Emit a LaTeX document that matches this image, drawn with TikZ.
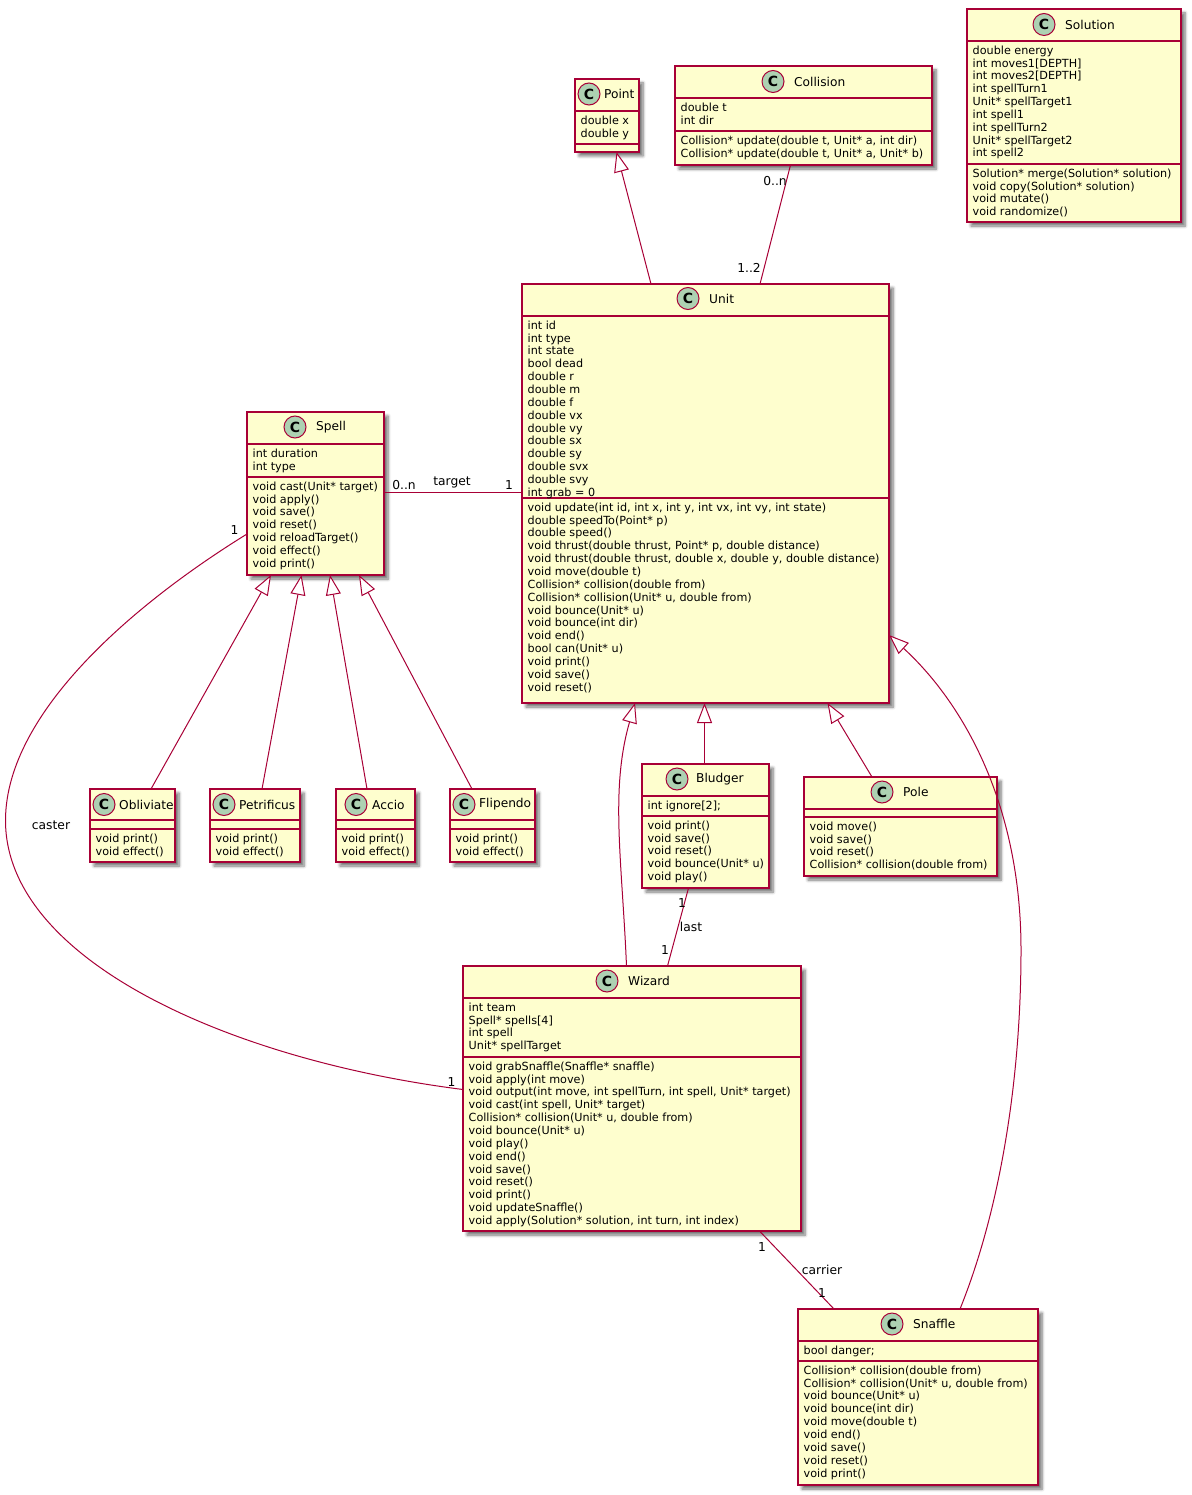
\documentclass[tikz,border=0pt]{standalone}
\usepackage{fontspec}
\setmainfont{DejaVu Sans}
\usetikzlibrary{arrows.meta,calc,shadows.blur}
\definecolor{umlline}{HTML}{A80036}
\definecolor{umlfill}{HTML}{FEFECE}
\definecolor{umlmark}{HTML}{ADD1B2}
\tikzset{
    umlbox/.style={rectangle, draw=umlline, line width=1.3pt, fill=umlfill, anchor=north west, inner sep=0, outer sep=0,
        blur shadow={shadow xshift=4pt, shadow yshift=-4pt, shadow blur radius=3pt, shadow blur steps=6, shadow opacity=55}},
    umlsep/.style={draw=umlline, line width=1.3pt},
    umlmark/.style={circle, draw=umlline, line width=1pt, fill=umlmark, minimum size=22pt, inner sep=0, font=\fontsize{14}{14}\selectfont\bfseries},
    umltitle/.style={anchor=west, inner sep=0, font=\fontsize{12.2}{14}\selectfont},
    umlrows/.style={anchor=north west, inner sep=0, align=left, font=\fontsize{11.2}{12.85}\selectfont},
    lbl/.style={inner sep=0, font=\fontsize{12.3}{13}\selectfont},
    ext/.style={draw=umlline, line width=1pt, -{Triangle[fill=white, length=20pt, width=15pt, line width=1pt]}},
    rel/.style={draw=umlline, line width=1pt},
}
\newcommand{\classbox}[7]{
    \node[umlbox, minimum width=#4pt-#2pt, minimum height=#5pt-#3pt] (#1) at (#2,#3) {};
    \draw[umlsep] (#1.west |- 0,#6) -- (#1.east |- 0,#6);
    \draw[umlsep] (#1.west |- 0,#7) -- (#1.east |- 0,#7);
}
\newcommand{\classhead}[5]{
    \node[umlmark] (#1-mark) at (#3,#5) {C};
    \node[umltitle] (#1-title) at (#4,#5) {#2};
}
\newcommand{\classrows}[4]{
    \node[umlrows] (#1-#2) at ($(#1.west |- 0,#3)+(5.5,4)$) {\rule{0pt}{9pt}#4};
}
\begin{document}
\begin{tikzpicture}[x=1pt, y=-1pt]
    \useasboundingbox (0,0) rectangle (1191,1495);

    \classbox{solution}{967}{9}{1181}{222}{41}{164}
    \classhead{solution}{Solution}{1044}{1065}{24.5}
    \classrows{solution}{attrs}{41}{double energy\\int moves1[DEPTH]\\int moves2[DEPTH]\\int spellTurn1\\Unit* spellTarget1\\int spell1\\int spellTurn2\\Unit* spellTarget2\\int spell2}
    \classrows{solution}{ops}{164}{Solution* merge(Solution* solution)\\void copy(Solution* solution)\\void mutate()\\void randomize()}

    \classbox{collision}{675}{66}{932}{165}{98}{131}
    \classhead{collision}{Collision}{773}{794}{81.5}
    \classrows{collision}{attrs}{98}{double t\\int dir}
    \classrows{collision}{ops}{131}{Collision* update(double t, Unit* a, int dir)\\Collision* update(double t, Unit* a, Unit* b)}

    \classbox{point}{575}{79}{639}{152}{111}{144}
    \classhead{point}{Point}{589}{604}{94}
    \classrows{point}{attrs}{111}{double x\\double y}

    \classbox{unit}{522}{284}{889}{703}{316}{498}
    \classhead{unit}{Unit}{688}{709}{298.5}
    \classrows{unit}{attrs}{316}{int id\\int type\\int state\\bool dead\\double r\\double m\\double f\\double vx\\double vy\\double sx\\double sy\\double svx\\double svy\\int grab = 0}
    \classrows{unit}{ops}{498}{void update(int id, int x, int y, int vx, int vy, int state)\\double speedTo(Point* p)\\double speed()\\void thrust(double thrust, Point* p, double distance)\\void thrust(double thrust, double x, double y, double distance)\\void move(double t)\\Collision* collision(double from)\\Collision* collision(Unit* u, double from)\\void bounce(Unit* u)\\void bounce(int dir)\\void end()\\bool can(Unit* u)\\void print()\\void save()\\void reset()}

    \classbox{spell}{247}{412}{384}{575}{444}{477}
    \classhead{spell}{Spell}{295}{316}{427}
    \classrows{spell}{attrs}{444}{int duration\\int type}
    \classrows{spell}{ops}{477}{void cast(Unit* target)\\void apply()\\void save()\\void reset()\\void reloadTarget()\\void effect()\\void print()}

    \classbox{obliviate}{90}{789}{175}{862}{820}{829}
    \classhead{obliviate}{Obliviate}{104}{119}{804.5}
    \classrows{obliviate}{ops}{829}{void print()\\void effect()}

    \classbox{petrificus}{210}{789}{300}{862}{820}{829}
    \classhead{petrificus}{Petrificus}{224}{239}{804.5}
    \classrows{petrificus}{ops}{829}{void print()\\void effect()}

    \classbox{accio}{336}{789}{415}{862}{820}{829}
    \classhead{accio}{Accio}{356}{372}{804.5}
    \classrows{accio}{ops}{829}{void print()\\void effect()}

    \classbox{flipendo}{450}{789}{535}{862}{820}{829}
    \classhead{flipendo}{Flipendo}{464}{479}{804.5}
    \classrows{flipendo}{ops}{829}{void print()\\void effect()}

    \classbox{bludger}{642}{764}{769}{888}{796}{816}
    \classhead{bludger}{Bludger}{677}{696}{779}
    \classrows{bludger}{attrs}{796}{int ignore[2];}
    \classrows{bludger}{ops}{816}{void print()\\void save()\\void reset()\\void bounce(Unit* u)\\void play()}

    \classbox{pole}{804}{777}{997}{876}{809}{817}
    \classhead{pole}{Pole}{882}{903}{792}
    \classrows{pole}{ops}{817}{void move()\\void save()\\void reset()\\Collision* collision(double from)}

    \classbox{wizard}{463}{966}{801}{1231}{998}{1057}
    \classhead{wizard}{Wizard}{607}{628}{981}
    \classrows{wizard}{attrs}{998}{int team\\Spell* spells[4]\\int spell\\Unit* spellTarget}
    \classrows{wizard}{ops}{1057}{void grabSnaffle(Snaffle* snaffle)\\void apply(int move)\\void output(int move, int spellTurn, int spell, Unit* target)\\void cast(int spell, Unit* target)\\Collision* collision(Unit* u, double from)\\void bounce(Unit* u)\\void play()\\void end()\\void save()\\void reset()\\void print()\\void updateSnaffle()\\void apply(Solution* solution, int turn, int index)}

    \classbox{snaffle}{798}{1309}{1038}{1485}{1341}{1361}
    \classhead{snaffle}{Snaffle}{892}{913}{1324}
    \classrows{snaffle}{attrs}{1341}{bool danger;}
    \classrows{snaffle}{ops}{1361}{Collision* collision(double from)\\Collision* collision(Unit* u, double from)\\void bounce(Unit* u)\\void bounce(int dir)\\void move(double t)\\void end()\\void save()\\void reset()\\void print()}

    % inheritance
    \draw[ext] ($(unit.north west)+(129,0)$) -- ($(point.south west)+(41.5,0)$);
    \draw[ext] ($(obliviate.north west)+(61,0)$) -- ($(spell.south west)+(24,0)$);
    \draw[ext] ($(petrificus.north west)+(52,0)$) -- ($(spell.south west)+(54.5,0)$);
    \draw[ext] ($(accio.north west)+(31,0)$) -- ($(spell.south west)+(83,0)$);
    \draw[ext] ($(flipendo.north west)+(22,0)$) -- ($(spell.south west)+(112,0)$);
    \draw[ext] ($(bludger.north west)+(62.5,0)$) -- ($(unit.south west)+(182.5,0)$);
    \draw[ext] ($(pole.north west)+(68,0)$) -- ($(unit.south west)+(305.5,0)$);
    \draw[ext] ($(wizard.north west)+(163.5,0)$) .. controls (622,860) and (610,790) .. ($(unit.south west)+(113,0)$);
    \draw[ext] ($(snaffle.north west)+(162,0)$) .. controls (1000,1210) and (1021,1080) .. (1021,950) .. controls (1021,800) and (960,700) .. ($(unit.north east)+(0,351)$);

    % associations
    \draw[rel] ($(collision.south west)+(115.5,0)$) -- ($(unit.north west)+(238,0)$);
    \draw[rel] ($(spell.north east)+(0,80)$) -- ($(unit.north west)+(0,208)$);
    \draw[rel] ($(bludger.south west)+(46.5,0)$) -- ($(wizard.north west)+(204.5,0)$);
    \draw[rel] ($(wizard.south west)+(296.5,0)$) -- ($(snaffle.north west)+(36,0)$);
    \draw[rel] ($(spell.north west)+(0,122)$) .. controls (140,600) and (6,710) .. (5.5,820) .. controls (5,960) and (230,1060) .. ($(wizard.north west)+(0,123.5)$);

    % labels
    \node[lbl] (colMany) at (775,181) {0..n};
    \node[lbl] (colUnit) at (749,268) {1..2};
    \node[lbl] (spellMany) at (404,485) {0..n};
    \node[lbl] (spellTarget) at (452,482) {target};
    \node[lbl] (unitOne) at (509,485) {1};
    \node[lbl] (casterOne) at (234.5,530.5) {1};
    \node[lbl] (casterName) at (51,825.5) {caster};
    \node[lbl] (wizardOne) at (451.5,1082) {1};
    \node[lbl] (bludgerOne) at (682,903.5) {1};
    \node[lbl] (lastName) at (691,927) {last};
    \node[lbl] (lastOne) at (665,950) {1};
    \node[lbl] (carrierOne) at (762,1247) {1};
    \node[lbl] (carrierName) at (822,1269.5) {carrier};
    \node[lbl] (snaffleOne) at (822,1293) {1};
\end{tikzpicture}
\end{document}
